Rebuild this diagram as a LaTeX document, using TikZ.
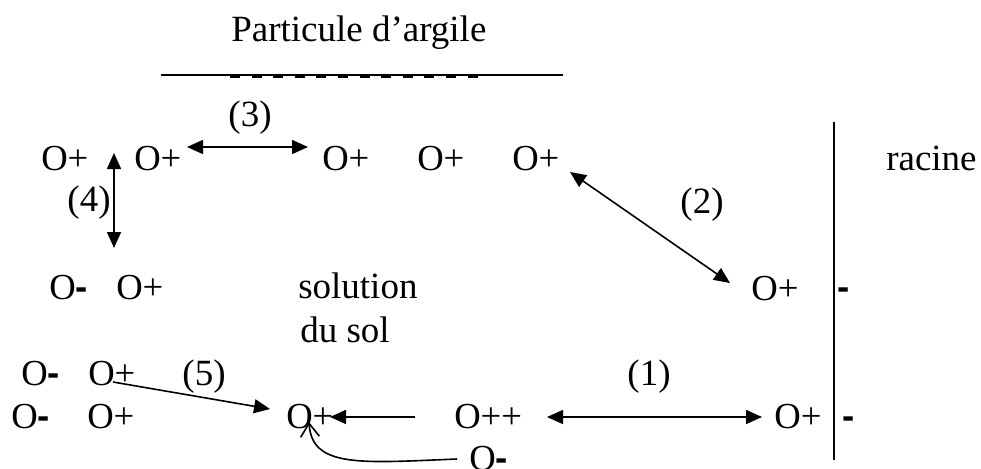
\documentclass[tikz,border=0pt]{standalone}
\usepackage{fontspec}
\setmainfont{Liberation Serif}
\setsansfont{Liberation Sans}
\usetikzlibrary{arrows.meta}
\newcommand\Mn{{\bfseries\sffamily -}}
\begin{document}
\begin{tikzpicture}[x=0.75pt,y=-0.75pt,
  ion/.style={anchor=base west,inner sep=0pt,font=\fontsize{27.5pt}{30pt}\selectfont},
  lab/.style={anchor=base west,inner sep=0pt,font=\fontsize{27.75pt}{30pt}\selectfont},
  num/.style={anchor=center,inner sep=0pt,font=\fontsize{27.75pt}{30pt}\selectfont},
  arr/.style={line width=1.2pt,-{Triangle[length=12pt,width=10.5pt]}},
  darr/.style={line width=1.2pt,{Triangle[length=12pt,width=10.5pt]}-{Triangle[length=12pt,width=10.5pt]}},
  barb/.style={line width=1.2pt,-{Straight Barb[length=10pt,width=14pt]}},
  rule/.style={line width=1.5pt}]
\useasboundingbox (0,0) rectangle (981,468);

% title and clay particle
\node[lab] (title) at (231,41.5) {Particule d'argile};
\coordinate (pl) at (161,75);
\coordinate (pr) at (563,75);
\draw[rule] (pl) -- (pr);
\coordinate (dl) at (230,77);
\coordinate (dr) at (478,77);
\draw[line width=1.1pt,dash pattern=on 7.5pt off 8.7pt] (dl) -- (dr);

% row 1
\node[ion] (a1) at (41,170) {O+};
\node[ion] (a2) at (134,170) {O+};
\node[ion] (a3) at (322,170) {O+};
\node[ion] (a4) at (417,170) {O+};
\node[ion] (a5) at (512,170) {O+};
\node[lab] (racine) at (886,170) {racine};

% row 2
\node[ion] (b1) at (49,299) {O\Mn};
\node[ion] (b2) at (116,299) {O+};
\node[lab] (sol1) at (298,298) {solution};
\node[lab] (sol2) at (300,342) {du sol};
\node[ion] (b3) at (751,300) {O+};

% row 3
\node[ion] (c1) at (21,385) {O\Mn};
\node[ion] (c2) at (88,385) {O+};

% row 4
\node[ion] (d1) at (11,428) {O\Mn};
\node[ion] (d2) at (87,428) {O+};
\node[ion] (d3) at (286,428) {O+};
\node[ion] (d4) at (454,428) {O++};
\node[ion] (d5) at (774,428) {O+};
\node[ion] (e1) at (469,470) {O\Mn};

% root
\coordinate (rt) at (834,122);
\coordinate (rb) at (834,460);
\draw[rule] (rt) -- (rb);
\node[ion] (m1) at (837,299) {\Mn};
\node[ion] (m2) at (842,428) {\Mn};

% labels
\node[num] (n1) at (649,377) {(1)};
\node[num] (n2) at (702,205) {(2)};
\node[num] (n3) at (250,118) {(3)};
\node[num] (n4) at (89,203) {(4)};
\node[num] (n5) at (204,377) {(5)};

% arrow end points
\coordinate (t3a) at (187,147);
\coordinate (t3b) at (308,147);
\coordinate (t4a) at (114,153);
\coordinate (t4b) at (114,248);
\coordinate (t2a) at (570,172);
\coordinate (t2b) at (730,283);
\coordinate (t1a) at (547,417);
\coordinate (t1b) at (762,417);
\coordinate (tqa) at (415,417);
\coordinate (tqb) at (330,417);
\coordinate (t5a) at (113,382);
\coordinate (t5b) at (270,409);
\coordinate (tca) at (457,459);
\coordinate (tcb) at (309,422);

\draw[darr] (t3a) -- (t3b);
\draw[darr] (t4a) -- (t4b);
\draw[darr] (t2a) -- (t2b);
\draw[darr] (t1a) -- (t1b);
\draw[arr] (tqa) -- (tqb);
\draw[arr] (t5a) -- (t5b);
\draw[barb] (tca) .. controls (360,463) and (312,468) .. (tcb);
\end{tikzpicture}
\end{document}
